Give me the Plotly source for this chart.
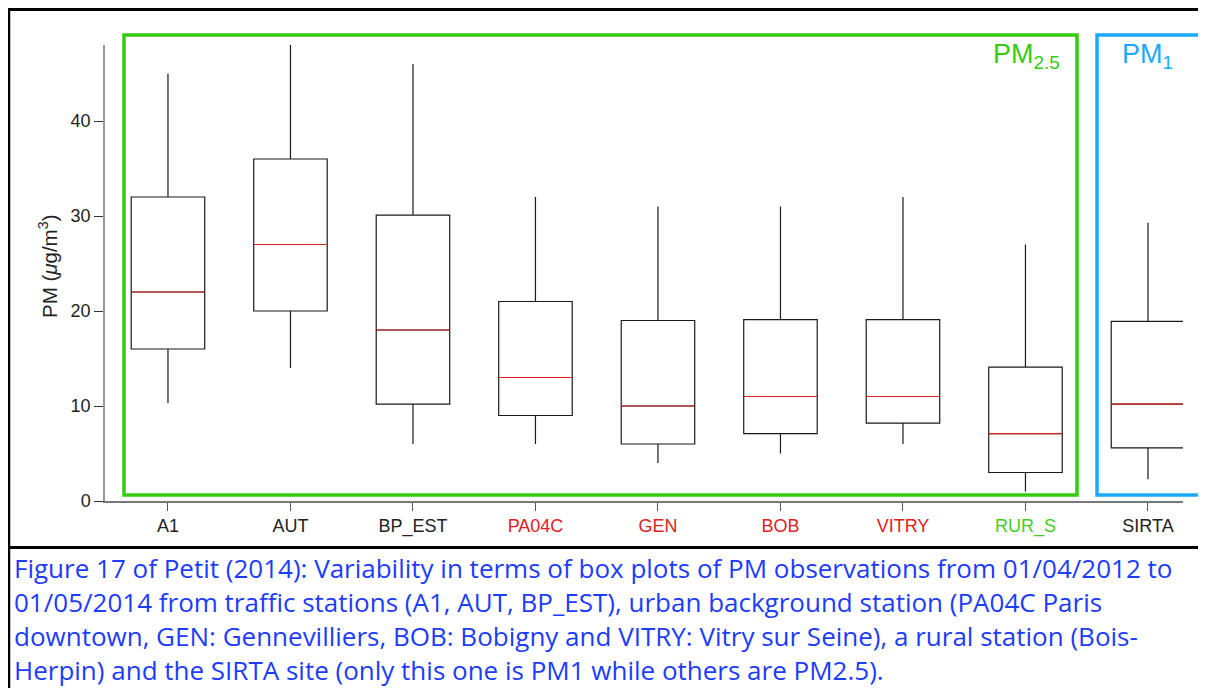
import plotly.graph_objects as go

# ---- data ----
stations = ["A1", "AUT", "BP_EST", "PA04C", "GEN", "BOB", "VITRY", "RUR_S", "SIRTA"]
label_colors = ["#222222", "#222222", "#222222", "#e0201c", "#e0201c", "#e0201c",
                "#e0201c", "#44cc22", "#222222"]
lower_whisker = [10.3, 14.0, 6.0, 6.0, 4.0, 5.0, 6.0, 1.0, 2.3]
q1 = [16.0, 20.0, 10.2, 9.0, 6.0, 7.1, 8.2, 3.0, 5.6]
median = [22.0, 27.0, 18.0, 13.0, 10.0, 11.0, 11.0, 7.1, 10.2]
q3 = [32.0, 36.0, 30.1, 21.0, 19.0, 19.1, 19.1, 14.1, 18.9]
upper_whisker = [45.0, 48.0, 46.0, 32.0, 31.0, 31.0, 32.0, 27.0, 29.3]
y_ticks = [0, 10, 20, 30, 40]

caption_lines = [
    "Figure 17 of Petit (2014): Variability in terms of box plots of PM observations from 01/04/2012 to",
    "01/05/2014 from traffic stations (A1, AUT, BP_EST), urban background station (PA04C Paris",
    "downtown, GEN: Gennevilliers, BOB: Bobigny and VITRY: Vitry sur Seine), a rural station (Bois-",
    "Herpin) and the SIRTA site (only this one is PM1 while others are PM2.5).",
]

# page body has an 8px margin: the figure starts at (8, 8) of the window
OFF = 8
W, H = 1206 - OFF, 688 - OFF
ML, MT = 105 - OFF, 45 - OFF
PLOT_R, PLOT_B = 1183 - OFF, 501 - OFF
MR, MB = W - PLOT_R, H - PLOT_B
PW, PH = PLOT_R - ML, PLOT_B - MT


def px(x):  # window pixel -> paper x
    return (x - OFF - ML) / PW


def py(y):  # window pixel -> paper y
    return (PLOT_B - (y - OFF)) / PH


xpos = list(range(len(stations)))
box_w = 0.6

fig = go.Figure()
fig.add_trace(go.Box(
    x=xpos, q1=q1, median=median, q3=q3,
    lowerfence=lower_whisker, upperfence=upper_whisker,
    width=box_w, whiskerwidth=0, boxpoints=False,
    line=dict(color="#1a1a1a", width=1.2),
    fillcolor="rgba(0,0,0,0)", showlegend=False, hoverinfo="skip",
))

mx, my = [], []
for i, m in zip(xpos, median):
    mx += [i - box_w / 2, i + box_w / 2, None]
    my += [m, m, None]
fig.add_trace(go.Scatter(x=mx, y=my, mode="lines",
                         line=dict(color="#e02020", width=1.2),
                         showlegend=False, hoverinfo="skip"))

ticktext = [f'<span style="color:{c}">{s}</span>' for s, c in zip(stations, label_colors)]

tick_font = dict(family="Liberation Sans, Arial, sans-serif", size=18, color="#222222")

fig.update_layout(
    width=W, height=H,
    margin=dict(l=ML, r=MR, t=MT, b=MB),
    paper_bgcolor="white", plot_bgcolor="white",
    xaxis=dict(range=[-0.514, 8.286], tickmode="array", tickvals=xpos, ticktext=ticktext,
               showline=True, linecolor="#777777", linewidth=1.5, ticks="outside",
               ticklen=8, tickcolor="#555555", showgrid=False, zeroline=False,
               tickfont=tick_font),
    yaxis=dict(range=[0, 48], tickmode="array", tickvals=y_ticks,
               showline=True, linecolor="#999999", linewidth=1.5, ticks="outside",
               ticklen=9, tickcolor="#333333", showgrid=False, zeroline=False,
               tickfont=tick_font),
)

shapes = []
# outer frame of the figure/table
shapes.append(dict(type="line", xref="paper", yref="paper", x0=px(8), x1=px(1210),
                   y0=py(9.5), y1=py(9.5), line=dict(color="black", width=3)))
shapes.append(dict(type="line", xref="paper", yref="paper", x0=px(9), x1=px(9),
                   y0=py(8), y1=py(700), line=dict(color="black", width=2.5)))
shapes.append(dict(type="line", xref="paper", yref="paper", x0=px(8), x1=px(1210),
                   y0=py(547.5), y1=py(547.5), line=dict(color="black", width=3)))
# group boxes
shapes.append(dict(type="rect", xref="paper", yref="paper", x0=px(124), x1=px(1077),
                   y0=py(495), y1=py(35), line=dict(color="#33cc11", width=3.5)))
shapes.append(dict(type="rect", xref="paper", yref="paper", x0=px(1097), x1=px(1200),
                   y0=py(495), y1=py(35), line=dict(color="#1aaaff", width=3.5)))
fig.update_layout(shapes=shapes)

ann = []
ann.append(dict(text="PM (<i>μ</i>g/m<sup>3</sup>)", xref="paper", yref="paper",
                x=px(48), y=py(266), textangle=-90, showarrow=False,
                font=dict(family="Liberation Sans, Arial, sans-serif", size=20.5, color="#222222"),
                xanchor="center", yanchor="middle"))
ann.append(dict(text="PM<sub>2.5</sub>", xref="paper", yref="paper", x=px(1026), y=py(56),
                showarrow=False, font=dict(family="Liberation Sans, Arial, sans-serif",
                                           size=27, color="#33cc11"),
                xanchor="center", yanchor="middle"))
ann.append(dict(text="PM<sub>1</sub>", xref="paper", yref="paper", x=px(1147), y=py(56),
                showarrow=False, font=dict(family="Liberation Sans, Arial, sans-serif",
                                           size=27, color="#1aaaff"),
                xanchor="center", yanchor="middle"))
for k, line in enumerate(caption_lines):
    ann.append(dict(text=line, xref="paper", yref="paper", x=px(12), y=py(568 + 34 * k),
                    showarrow=False, xanchor="left", yanchor="middle",
                    font=dict(family="Open Sans, sans-serif", size=26, color="#1c3cff")))
fig.update_layout(annotations=ann)

fig.write_html("out.html")
